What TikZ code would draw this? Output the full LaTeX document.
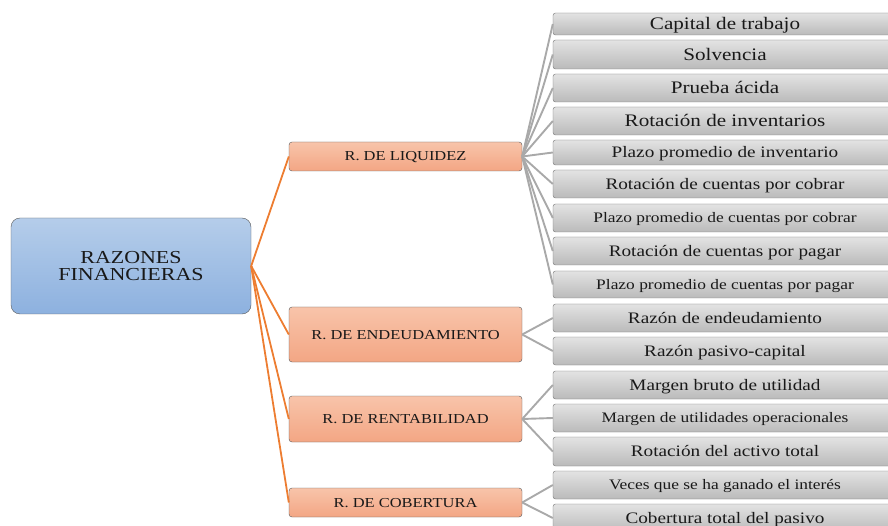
\documentclass[tikz,border=0pt]{standalone}
\usepackage{fontspec}
\setmainfont{Liberation Serif}[FakeStretch=1.2]
\definecolor{branchorange}{HTML}{ED7D31}
\definecolor{leafline}{HTML}{A9A9A9}
\definecolor{roottop}{HTML}{B5CDEA}
\definecolor{rootbottom}{HTML}{8DB1DF}
\definecolor{grouptop}{HTML}{F8C4AA}
\definecolor{groupbottom}{HTML}{F3A684}
\tikzset{
	root/.style={draw=black!65,rounded corners=9pt,top color=roottop,bottom color=rootbottom,
		align=center,inner sep=0pt,text=black!90,
		minimum width=240,minimum height=96,font=\fontsize{18.3}{17}\selectfont},
	group/.style={draw=black!65,rounded corners=3pt,top color=grouptop,bottom color=groupbottom,
		inner sep=0pt,text height=11pt,text depth=2pt,text=black!90,
		minimum width=233,font=\fontsize{13.7}{15}\selectfont},
	leaf/.style={draw=black!55,rounded corners=2.5pt,top color=black!11,bottom color=black!27,
		inner sep=0pt,text height=12.6pt,text depth=2pt,text=black!90,
		minimum width=344,font=\fontsize{16}{18}\selectfont},
	leafbig/.style={leaf,text height=13.6pt,font=\fontsize{17.6}{19}\selectfont},
	leafsmall/.style={leaf,text height=11.6pt,font=\fontsize{14.5}{16}\selectfont},
	trunk/.style={draw=branchorange,line width=1.8},
	twig/.style={draw=leafline,line width=1.9}
}
\begin{document}
\begin{tikzpicture}[x=1pt,y=-1pt]
		\useasboundingbox (0,0) rectangle (888,526);
		
		\node[root] (razones) at (131,266) {RAZONES\\FINANCIERAS};
		
		\node[group,minimum height=29] (liquidez) at (405.5,156.5) {R. DE LIQUIDEZ};
		\node[group,minimum height=55] (endeuda) at (405.5,334.5) {R. DE ENDEUDAMIENTO};
		\node[group,minimum height=46] (rentab) at (405.5,419) {R. DE RENTABILIDAD};
		\node[group,minimum height=29] (cobert) at (405.5,502.5) {R. DE COBERTURA};
		
		\draw[trunk](razones.east)--(liquidez.west);
		\draw[trunk](razones.east)--(endeuda.west);
		\draw[trunk](razones.east)--(rentab.west);
		\draw[trunk](razones.east)--(cobert.west);
		
		\node[leafbig,minimum height=22] (cap) at (725,24) {Capital de trabajo};
		\node[leafbig,minimum height=29] (solv) at (725,54.5) {Solvencia};
		\node[leafbig,minimum height=28] (prueba) at (725,88) {Prueba ácida};
		\node[leafbig,minimum height=28] (rotinv) at (725,121) {Rotación de inventarios};
		\node[leaf,minimum height=25] (plazoinv) at (725,152.5) {Plazo promedio de inventario};
		\node[leaf,minimum height=28] (rotcob) at (725,184) {Rotación de cuentas por cobrar};
		\node[leafsmall,minimum height=28] (plazocob) at (725,218) {Plazo promedio de cuentas por cobrar};
		\node[leaf,minimum height=28] (rotpag) at (725,251) {Rotación de cuentas por pagar};
		\node[leafsmall,minimum height=27] (plazopag) at (725,284.5) {Plazo promedio de cuentas por pagar};
		
		\node[leaf,minimum height=28] (razend) at (725,318) {Razón de endeudamiento};
		\node[leaf,minimum height=28] (razpas) at (725,351) {Razón pasivo-capital};
		
		\node[leaf,minimum height=28] (margbruto) at (725,385) {Margen bruto de utilidad};
		\node[leafsmall,minimum height=28] (margop) at (725,418) {Margen de utilidades operacionales};
		\node[leaf,minimum height=29] (rotact) at (725,451.5) {Rotación del activo total};
		
		\node[leafsmall,minimum height=28] (veces) at (725,485) {Veces que se ha ganado el interés};
		\node[leaf,minimum height=28] (cobpas) at (725,518) {Cobertura total del pasivo};
		
		% ramas de cada grupo
		\foreach \n in {cap,solv,prueba,rotinv,plazoinv,rotcob,plazocob,rotpag,plazopag}
		\draw[twig](liquidez.east)--(\n.west);
		\foreach \n in {razend,razpas}
		\draw[twig](endeuda.east)--(\n.west);
		\foreach \n in {margbruto,margop,rotact}
		\draw[twig](rentab.east)--(\n.west);
		\foreach \n in {veces,cobpas}
		\draw[twig](cobert.east)--(\n.west);
\end{tikzpicture}
\end{document}
